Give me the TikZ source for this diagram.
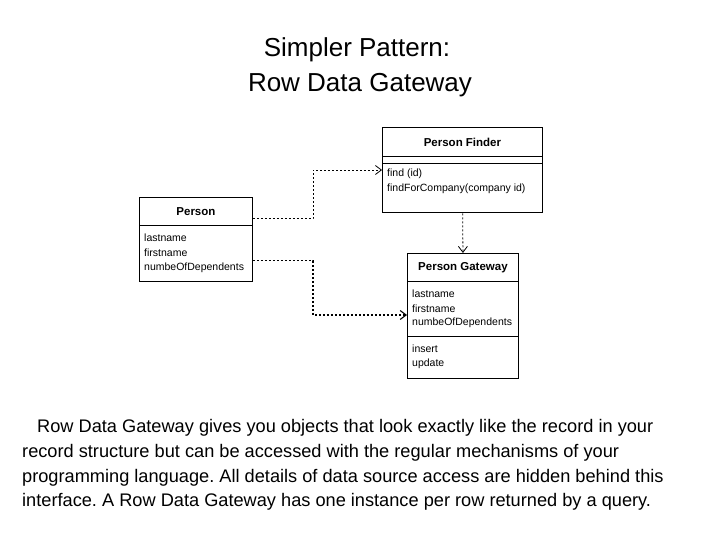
\documentclass[tikz,border=0pt]{standalone}
\usepackage{fontspec}
\setmainfont{Liberation Sans}
\usetikzlibrary{arrows.meta}
\frenchspacing
\begin{document}
\begin{tikzpicture}[x=1pt,y=-1pt,
  cls/.style={draw,line width=0.9pt,inner sep=0pt,anchor=north west},
  hdr/.style={font=\fontsize{11.5}{12}\selectfont\bfseries},
  itm/.style={font=\fontsize{10.5}{14.5}\selectfont,anchor=west,inner sep=0pt,align=left},
  dep/.style={line width=0.8pt,dash pattern=on 2pt off 2pt,-{Straight Barb[length=6pt,width=9pt]}},
  body/.style={font=\fontsize{18.2}{24.7}\selectfont\frenchspacing,anchor=base west,inner sep=0pt},
  ttl/.style={font=\fontsize{26}{34}\selectfont,anchor=base,inner sep=0pt}]
\useasboundingbox (0,0) rectangle (720,540);
% title
\node[ttl] (title1) at (357,57) {Simpler Pattern:};
\node[ttl] (title2) at (360,92) {Row Data Gateway};
% Person Finder
\node[cls,minimum width=160pt,minimum height=29pt] (pfH) at (382,127) {};
\node[hdr] (pfHt) at (pfH.center) {Person Finder};
\node[cls,line width=1.3pt,minimum width=160pt,minimum height=7pt] (pfE) at (382,156) {};
\node[cls,line width=1.3pt,minimum width=160pt,minimum height=49pt] (pfB) at (382,163) {};
\node[itm] (pf1) at (387,174) {find (id)};
\node[itm] (pf2) at (387,189) {findForCompany(company id)};
% Person
\node[cls,minimum width=113pt,minimum height=28pt] (pH) at (139,197) {};
\node[hdr] (pHt) at (pH.center) {Person};
\node[cls,minimum width=113pt,minimum height=56pt] (pB) at (139,225) {};
\node[itm] (p1) at (144,238) {lastname};
\node[itm] (p2) at (144,253) {firstname};
\node[itm] (p3) at (144,268) {numbeOfDependents};
% Person Gateway
\node[cls,minimum width=111pt,minimum height=28pt] (gH) at (407,253) {};
\node[hdr] (gHt) at (gH.center) {Person Gateway};
\node[cls,line width=1.4pt,minimum width=111pt,minimum height=55pt] (gA) at (407,281) {};
\node[cls,line width=1.4pt,minimum width=111pt,minimum height=42pt] (gO) at (407,336) {};
\node[itm] (g1) at (412,294) {lastname};
\node[itm] (g2) at (412,309) {firstname};
\node[itm] (g3) at (412,323) {numbeOfDependents};
\node[itm] (g4) at (412,349) {insert};
\node[itm] (g5) at (412,364) {update};
% connectors
\coordinate (k1) at (313,170);
\coordinate (k2) at (313,315);
\draw[dep] ([yshift=7pt]pH.south east) -| (k1) -- ([yshift=-7pt]pfB.north west);
\draw[dep,line width=1.1pt] ([yshift=21pt]pB.south east) -| (k2) -- ([yshift=-34pt]gA.north west);
\draw[dep] (pfB.south) -- (gH.north);
% body text
\node[body] (t1) at (22,432) {\hspace*{15pt}Row Data Gateway gives you objects that look exactly like the record in your};
\node[body] (t2) at (22,457) {record structure but can be accessed with the regular mechanisms of your};
\node[body] (t3) at (22,482) {programming language. All details of data source access are hidden behind this};
\node[body] (t4) at (22,506) {interface. A Row Data Gateway has one instance per row returned by a query.};
\end{tikzpicture}
\end{document}
